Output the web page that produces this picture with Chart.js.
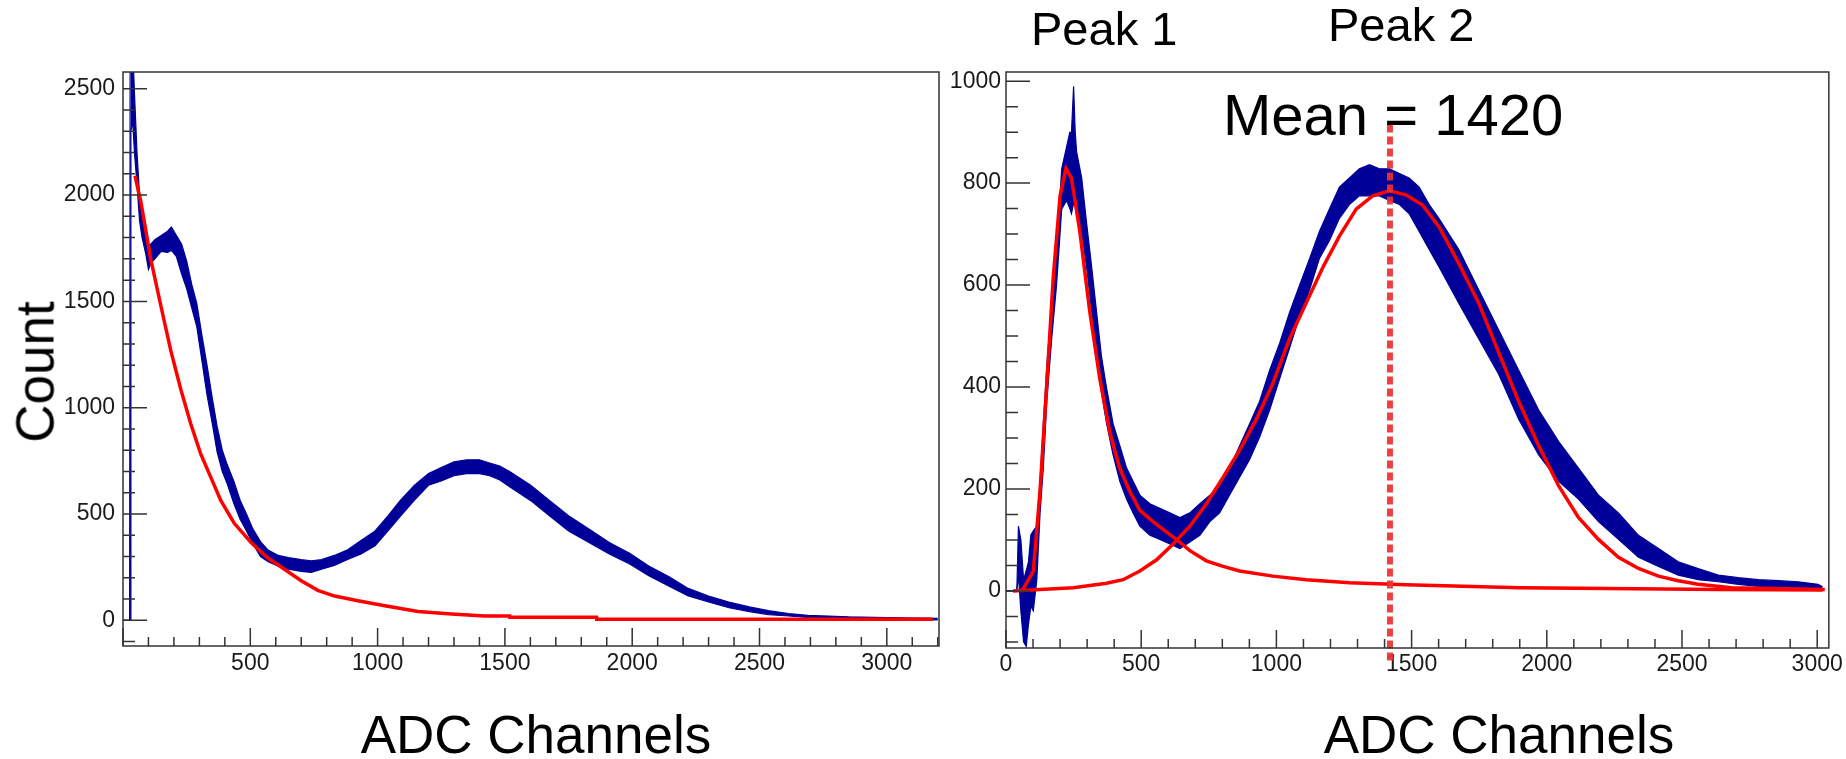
<!DOCTYPE html>
<html>
<head>
<meta charset="utf-8">
<title>ADC spectra</title>
<script src="https://cdn.jsdelivr.net/npm/chart.js@4.4.0/dist/chart.umd.min.js"></script>
<style>
    html, body { margin: 0; padding: 0; background: #fff; }
    body {
        width: 1846px;
        height: 759px;
        position: relative;
        overflow: hidden;
        font-family: 'Liberation Sans', Arial, sans-serif;
    }
    .chart-box { position: absolute; top: 0; height: 759px; }
    .label { position: absolute; line-height: 1; white-space: nowrap; color: #000; }
    .axis-title { font-size: 53px; text-align: center; width: 500px; }
</style>
</head>
<body>
<div class="chart-box" style="left:0;width:960px"><canvas id="left-chart" width="960" height="759"></canvas></div>
<div class="chart-box" style="left:900px;width:946px"><canvas id="right-chart" width="946" height="759"></canvas></div>

<div class="label" style="left:35px;top:372px;font-size:53px;transform:translate(-50%,-50%) rotate(-90deg)">Count</div>
<div class="label axis-title" style="left:286px;top:708px">ADC Channels</div>
<div class="label axis-title" style="left:1249px;top:708px">ADC Channels</div>
<div class="label" style="left:1031px;top:5px;font-size:47px">Peak 1</div>
<div class="label" style="left:1328px;top:1px;font-size:47px">Peak 2</div>
<div class="label" style="left:1223px;top:86px;font-size:58px">Mean = 1420</div>

<script>
// ---- Left spectrum: raw histogram (read as lower / upper edge of the noisy band) ----
const leftX = [0, 26, 28, 31, 38, 45, 55, 65, 75, 90, 100, 110, 125, 150, 175, 190, 210, 230, 250, 270,
    290, 310, 330, 350, 370, 390, 410, 435, 460, 485, 510, 540, 570, 610, 650, 700, 740, 780, 830, 880,
    935, 990, 1040, 1090, 1145, 1200, 1250, 1300, 1350, 1400, 1440, 1480, 1520, 1600, 1675, 1750, 1830,
    1910, 1990, 2065, 2145, 2220, 2300, 2380, 2460, 2535, 2615, 2690, 2770, 2850, 2950, 3050, 3150, 3200];
const leftLo = [0, 0, 0, 2300, 2350, 2200, 2050, 1880, 1800, 1720, 1650, 1680, 1700, 1735, 1730, 1740, 1710, 1630, 1560, 1470,
    1380, 1220, 1060, 930, 790, 700, 640, 550, 475, 420, 360, 300, 275, 255, 240, 230, 225, 240, 258, 285,
    312, 350, 420, 490, 565, 635, 655, 680, 690, 690, 680, 660, 627, 564, 492, 420, 366,
    312, 265, 210, 160, 114, 86, 59, 41, 27, 20, 13, 9, 6, 4, 3, 2, 2];
const leftHi = [0, 0, 2700, 2700, 2700, 2480, 2200, 2000, 1920, 1830, 1760, 1770, 1790, 1810, 1830, 1850, 1810, 1770, 1690, 1580,
    1490, 1340, 1200, 1050, 910, 800, 730, 655, 565, 500, 430, 370, 330, 305, 295, 285, 280, 285, 305, 330,
    375, 420, 490, 565, 636, 690, 718, 745, 755, 755, 740, 725, 699, 636, 564, 492, 429,
    366, 315, 255, 205, 150, 114, 86, 63, 45, 32, 23, 20, 16, 14, 12, 10, 9];

// ---- Left spectrum: background fit ----
const leftFitX = [47, 70, 109, 148, 188, 227, 266, 306, 345, 384, 437, 503, 568, 634, 700, 765, 831, 923,
    1028, 1159, 1290, 1421, 1519, 1520, 1860, 1861, 3180];
const leftFit = [2090, 1969, 1699, 1483, 1267, 1086, 924, 780, 672, 564, 456, 366, 294, 240, 186, 141, 114, 92,
    68, 41, 29, 20, 20, 14, 14, 5, 5];

// ---- Right spectrum: background-subtracted histogram ----
const rightX = [0, 40, 46, 55, 65, 75, 83, 92, 101, 114, 126, 138, 151, 169, 187, 206, 224, 236, 242, 250,
    256, 261, 280, 298, 317, 335, 353, 372, 396, 421, 446, 470, 495, 532, 569, 606, 643, 680, 717, 754,
    790, 827, 864, 901, 938, 975, 1012, 1049, 1086, 1123, 1159, 1196, 1233, 1270, 1307, 1344, 1381, 1418,
    1455, 1491, 1528, 1565, 1602, 1674, 1748, 1822, 1896, 1970, 2044, 2117, 2191, 2265, 2339, 2413, 2486,
    2560, 2634, 2708, 2782, 2856, 2930, 3003, 3020];
const rightLo = [0, 0, 31, -40, -100, -109, -66, -30, -39, 22, 153, 241, 372, 495, 600, 749, 766, 750, 740, 760,
    760, 740, 705, 635, 547, 460, 390, 328, 267, 215, 180, 153, 127, 109, 101, 92, 83, 96, 109, 136,
    153, 188, 223, 258, 302, 355, 416, 477, 538, 591, 652, 687, 731, 758, 775, 775, 775, 766,
    758, 740, 705, 670, 635, 565, 495, 425, 337, 267, 215, 180, 136, 101, 66, 48, 31,
    22, 18, 13, 9, 9, 6, 4, 3];
const rightHi = [0, 0, 127, 100, 22, 40, 57, 110, 118, 127, 215, 328, 442, 565, 670, 828, 871, 900, 898, 990,
    900, 862, 810, 722, 635, 547, 460, 398, 328, 285, 241, 215, 188, 171, 162, 153, 144, 153, 171, 188,
    206, 241, 285, 328, 372, 433, 486, 547, 600, 652, 705, 749, 792, 810, 828, 836, 828, 828,
    819, 810, 792, 758, 730, 670, 591, 512, 433, 355, 293, 241, 188, 153, 109, 83, 57,
    44, 31, 26, 22, 20, 18, 13, 8];

// ---- Right spectrum: fitted peaks ----
const peak1X = [60, 101, 126, 151, 175, 200, 222, 242, 273, 310, 347, 384, 421, 458, 495, 544, 593, 630,
    680, 741, 803, 864, 987, 1110, 1270, 1479, 1900, 2640, 3020];
const peak1Fit = [0, 39, 197, 407, 617, 775, 829, 810, 705, 547, 416, 311, 240, 195, 158, 136, 116, 101,
    79, 59, 48, 39, 29, 22, 16, 12, 6, 3, 2];
const peak2X = [26, 126, 249, 372, 433, 495, 557, 618, 680, 741, 803, 864, 926, 987, 1049, 1110, 1172, 1233,
    1295, 1356, 1418, 1479, 1540, 1602, 1674, 1748, 1822, 1896, 1970, 2044, 2117, 2191, 2265, 2339, 2413,
    2486, 2560, 2683, 3028];
const peak2Fit = [0, 3, 6, 15, 22, 39, 61, 92, 127, 171, 223, 276, 337, 407, 495, 565, 635, 696,
    749, 775, 785, 777, 757, 714, 643, 565, 468, 372, 285, 206, 144, 101, 66, 44, 29,
    20, 13, 6, 3];

// Mean of peak 2 and the vertical extent of its marker (data units)
const meanValue = 1420;
const meanLineY = [915, -140];

// ---- Axis ranges and tick labels ----
const leftXRange = [0, 3205];
const leftYRange = [-121, 2579];
const leftXTicks = [500, 1000, 1500, 2000, 2500, 3000];
const leftYTicks = [0, 500, 1000, 1500, 2000, 2500];
const rightXRange = [0, 3043];
const rightYRange = [-112, 1018];
const rightXTicks = [0, 500, 1000, 1500, 2000, 2500, 3000];
const rightYTicks = [0, 200, 400, 600, 800, 1000];

const BLUE = '#000099';
const RED = '#ff0000';
const LABEL_FONT = { family: "'Liberation Sans', Arial, sans-serif", size: 23 };

function toPoints(xs, ys) {
    return xs.map((x, i) => ({ x: x, y: ys[i] }));
}

function range(from, to, step) {
    const out = [];
    for (let v = from; v <= to + 1e-9; v += step) out.push(v);
    return out;
}

// ROOT-like frame with inward ticks on the left and bottom axes
const frameTicks = {
    id: 'frameTicks',
    afterDatasetsDraw(chart, args, opts) {
        const { ctx, chartArea: a, scales: { x, y } } = chart;
        ctx.save();
        ctx.strokeStyle = '#333';
        ctx.lineWidth = 1.5;
        ctx.beginPath();
        const tickY = (vals, len) => vals.forEach(v => {
            const p = y.getPixelForValue(v);
            if (p < a.top || p > a.bottom) return;
            ctx.moveTo(a.left, p);
            ctx.lineTo(a.left + len, p);
        });
        const tickX = (vals, len) => vals.forEach(v => {
            const p = x.getPixelForValue(v);
            if (p < a.left || p > a.right) return;
            ctx.moveTo(p, a.bottom);
            ctx.lineTo(p, a.bottom - len);
        });
        tickY(opts.yMajor, 24);
        tickY(opts.yMinor, 12);
        tickX(opts.xMajor, 18);
        tickX(opts.xMinor, 9);
        ctx.stroke();
        ctx.strokeRect(a.left, a.top, a.right - a.left, a.bottom - a.top);
        ctx.restore();
    }
};

function bandDatasets(xs, lo, hi) {
    return [{
        data: toPoints(xs, hi),
        borderColor: BLUE,
        borderWidth: 1.2,
        fill: false
    }, {
        data: toPoints(xs, lo),
        borderColor: BLUE,
        borderWidth: 1.2,
        backgroundColor: BLUE,
        fill: '-1'
    }];
}

function fitDataset(xs, ys) {
    return { data: toPoints(xs, ys), borderColor: RED, borderWidth: 3.5, fill: false };
}

function axes(xRange, yRange, xTicks, yTicks, yWidth, xHeight, yPad, xPad) {
    return {
        x: {
            type: 'linear',
            min: xRange[0],
            max: xRange[1],
            grid: { display: false, drawTicks: false },
            border: { display: false },
            ticks: {
                font: LABEL_FONT, color: '#1a1a1a', padding: xPad, maxRotation: 0,
                includeBounds: false, callback: v => String(v)
            },
            afterBuildTicks: s => { s.ticks = xTicks.map(v => ({ value: v })); },
            afterFit: s => { s.height = xHeight; }
        },
        y: {
            type: 'linear',
            min: yRange[0],
            max: yRange[1],
            grid: { display: false, drawTicks: false },
            border: { display: false },
            ticks: {
                font: LABEL_FONT, color: '#1a1a1a', padding: yPad,
                includeBounds: false, callback: v => String(v)
            },
            afterBuildTicks: s => { s.ticks = yTicks.map(v => ({ value: v })); },
            afterFit: s => { s.width = yWidth; }
        }
    };
}

const baseOptions = {
    responsive: false,
    animation: false,
    events: [],
    elements: { point: { radius: 0 }, line: { tension: 0 } },
    plugins: { legend: { display: false }, tooltip: { enabled: false } }
};

// Left panel: raw spectrum with exponential background
new Chart(document.getElementById('left-chart'), {
    type: 'line',
    data: {
        datasets: [
            fitDataset(leftFitX, leftFit),
            ...bandDatasets(leftX, leftLo, leftHi)
        ]
    },
    options: {
        ...baseOptions,
        layout: { padding: { left: 0, top: 72, right: 21, bottom: 0 } },
        scales: axes(leftXRange, leftYRange, leftXTicks, leftYTicks, 123, 113, 8, 4),
        plugins: {
            ...baseOptions.plugins,
            frameTicks: {
                xMajor: range(0, 3000, 500), xMinor: range(100, 3200, 100),
                yMajor: leftYTicks, yMinor: range(-100, 2500, 100)
            }
        }
    },
    plugins: [frameTicks]
});

// Right panel: background-subtracted spectrum with two peak fits
new Chart(document.getElementById('right-chart'), {
    type: 'line',
    data: {
        datasets: [
            {
                data: [{ x: meanValue, y: meanLineY[0] }, { x: meanValue, y: meanLineY[1] }],
                borderColor: 'rgba(236, 50, 50, 0.92)',
                borderWidth: 6,
                borderDash: [8, 4],
                clip: false,
                fill: false
            },
            fitDataset(peak1X, peak1Fit),
            fitDataset(peak2X, peak2Fit),
            ...bandDatasets(rightX, rightLo, rightHi)
        ]
    },
    options: {
        ...baseOptions,
        layout: { padding: { left: 0, top: 72, right: 15, bottom: 0 } },
        scales: axes(rightXRange, rightYRange, rightXTicks, rightYTicks, 106, 111, 5, 3),
        plugins: {
            ...baseOptions.plugins,
            frameTicks: {
                xMajor: rightXTicks, xMinor: range(100, 3000, 100),
                yMajor: rightYTicks, yMinor: range(-100, 1000, 50)
            }
        }
    },
    plugins: [frameTicks]
});
</script>
</body>
</html>
